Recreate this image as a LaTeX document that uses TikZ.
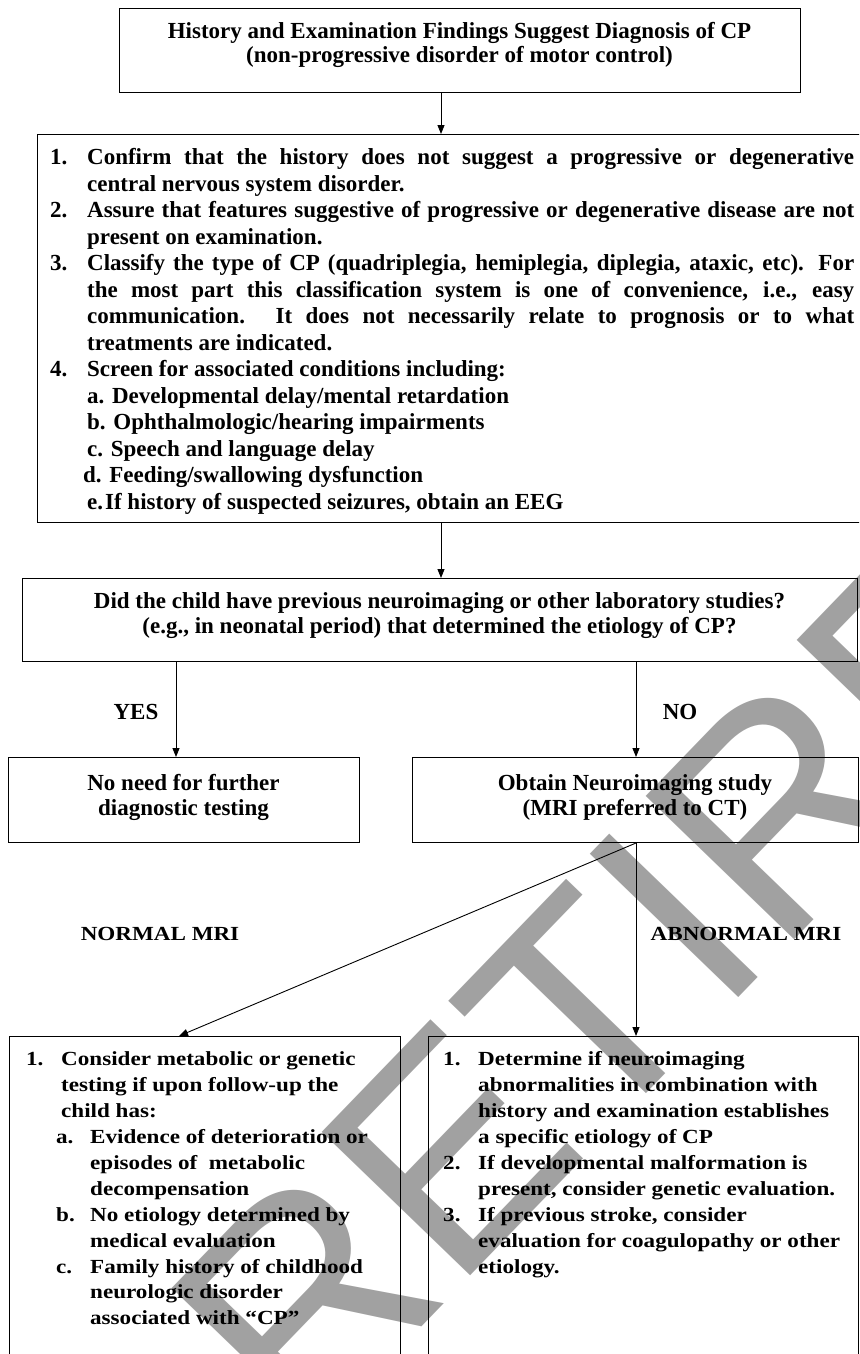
\documentclass[tikz,border=0pt]{standalone}
\usepackage{fontspec}
\setmainfont{Liberation Serif}
\newfontfamily\topfont{Liberation Serif}
\newfontfamily\botfont{Liberation Serif}[FakeStretch=1.155]
\newfontfamily\wmfont{Liberation Sans}
\usetikzlibrary{arrows.meta}
\definecolor{wmgray}{gray}{0.63}
\newcommand{\jl}[2]{\makebox[#1][s]{#2}}
\newcommand{\hs}[1]{\hspace*{#1}}
\begin{document}
\begin{tikzpicture}[x=1pt,y=-1pt,
  box/.style={draw, line width=1pt, inner sep=0pt, anchor=north west},
  arr/.style={draw, line width=0.9pt, -{Triangle[length=9pt,width=7pt]}},
  txt/.style={inner sep=0pt, font=\topfont\bfseries\fontsize{23}{25}\selectfont},
  btxt/.style={inner sep=0pt, font=\botfont\bfseries\fontsize{20}{25.9}\selectfont},
  lab/.style={inner sep=0pt, font=\topfont\bfseries\fontsize{23}{25}\selectfont},
  blab/.style={inner sep=0pt, font=\botfont\bfseries\fontsize{20}{25}\selectfont},
  wm/.style={inner sep=0pt, text=wmgray, font=\wmfont\fontsize{300}{300}\selectfont}]
\useasboundingbox (0,0) rectangle (859,1354);
\clip (0,0) rectangle (859,1354);
% watermark
\node[wm, rotate=46, anchor=base east] (wmk) at (1218,502) {RETIRED};
% boxes
\node[box, minimum width=681pt, minimum height=84pt] (b1) at (119,8) {};
\node[box, minimum width=843pt, minimum height=388pt] (b2) at (37,134) {};
\node[box, minimum width=835pt, minimum height=83pt] (b3) at (22,578) {};
\node[box, minimum width=351pt, minimum height=85pt] (b4) at (8,757) {};
\node[box, minimum width=446pt, minimum height=85pt] (b5) at (412,757) {};
\node[box, minimum width=391pt, minimum height=360pt] (b6) at (9,1036) {};
\node[box, minimum width=430pt, minimum height=360pt] (b7) at (428,1036) {};
% texts
\node[txt, align=center, anchor=north, font=\topfont\bfseries\fontsize{23}{23}\selectfont] (t1) at (459.5,22.5)
 {\strut History and Examination Findings Suggest Diagnosis of CP\\(non-progressive disorder of motor control)};
\node[txt, align=left, anchor=north west, font=\topfont\bfseries\fontsize{23}{26.5}\selectfont] (t2) at (50,146) {%
\strut\makebox[37pt][l]{1.}\jl{767pt}{Confirm that the history does not suggest a progressive or degenerative}\\
\hs{37pt}central nervous system disorder.\\
\makebox[37pt][l]{2.}\jl{767pt}{Assure that features suggestive of progressive or degenerative disease are not}\\
\hs{37pt}present on examination.\\
\makebox[37pt][l]{3.}\jl{767pt}{Classify the type of CP (quadriplegia, hemiplegia, diplegia, ataxic, etc). For}\\
\hs{37pt}\jl{767pt}{the most part this classification system is one of convenience, i.e., easy}\\
\hs{37pt}\jl{767pt}{communication. It does not necessarily relate to prognosis or to what}\\
\hs{37pt}treatments are indicated.\\
\makebox[37pt][l]{4.}Screen for associated conditions including:\\
\hs{37pt}a. Developmental delay/mental retardation\\
\hs{37pt}b. Ophthalmologic/hearing impairments\\
\hs{37pt}c. Speech and language delay\\
\hs{33pt}d. Feeding/swallowing dysfunction\\
\hs{37pt}e.\hspace{2pt}If history of suspected seizures, obtain an EEG};
\node[txt, align=center, anchor=north] (t3) at (439.5,591.1)
 {\strut Did the child have previous neuroimaging or other laboratory studies?\\(e.g., in neonatal period) that determined the etiology of CP?};
\node[txt, align=center, anchor=north] (t4) at (183.5,773.1)
 {\strut No need for further\\diagnostic testing};
\node[txt, align=center, anchor=north] (t5) at (635,773.1)
 {\strut Obtain Neuroimaging study\\(MRI preferred to CT)};
\node[btxt, align=left, anchor=north west] (t6) at (26,1047.5) {%
\strut\makebox[35pt][l]{1.}Consider metabolic or genetic\\
\hs{35pt}testing if upon follow-up the\\
\hs{35pt}child has:\\
\hs{30pt}\makebox[34pt][l]{a.}Evidence of deterioration or\\
\hs{64pt}episodes of\ \ metabolic\\
\hs{64pt}decompensation\\
\hs{30pt}\makebox[34pt][l]{b.}No etiology determined by\\
\hs{64pt}medical evaluation\\
\hs{30pt}\makebox[34pt][l]{c.}Family history of childhood\\
\hs{64pt}neurologic disorder\\
\hs{64pt}associated with “CP”};
\node[btxt, align=left, anchor=north west] (t7) at (443,1047.5) {%
\strut\makebox[35pt][l]{1.}Determine if neuroimaging\\
\hs{35pt}abnormalities in combination with\\
\hs{35pt}history and examination establishes\\
\hs{35pt}a specific etiology of CP\\
\makebox[35pt][l]{2.}If developmental malformation is\\
\hs{35pt}present, consider genetic evaluation.\\
\makebox[35pt][l]{3.}If previous stroke, consider\\
\hs{35pt}evaluation for coagulopathy or other\\
\hs{35pt}etiology.};
% labels
\node[lab] (yes) at (136,712) {YES};
\node[lab] (no) at (680,712) {NO};
\node[blab] (nmri) at (160,934) {NORMAL MRI};
\node[blab] (amri) at (746,934) {ABNORMAL MRI};
% connectors
\coordinate (xa) at (441,0);
\coordinate (xy) at (176,0);
\coordinate (xn) at (636,0);
\coordinate (xd) at (179,0);
\draw[arr] (b1.south -| xa) -- (b2.north -| xa);
\draw[arr] (b2.south -| xa) -- (b3.north -| xa);
\draw[arr] (b3.south -| xy) -- (b4.north -| xy);
\draw[arr] (b3.south -| xn) -- (b5.north -| xn);
\draw[arr] (b5.south -| xn) -- (b6.north -| xd);
\draw[arr] (b5.south -| xn) -- (b7.north -| xn);
\end{tikzpicture}
\end{document}
